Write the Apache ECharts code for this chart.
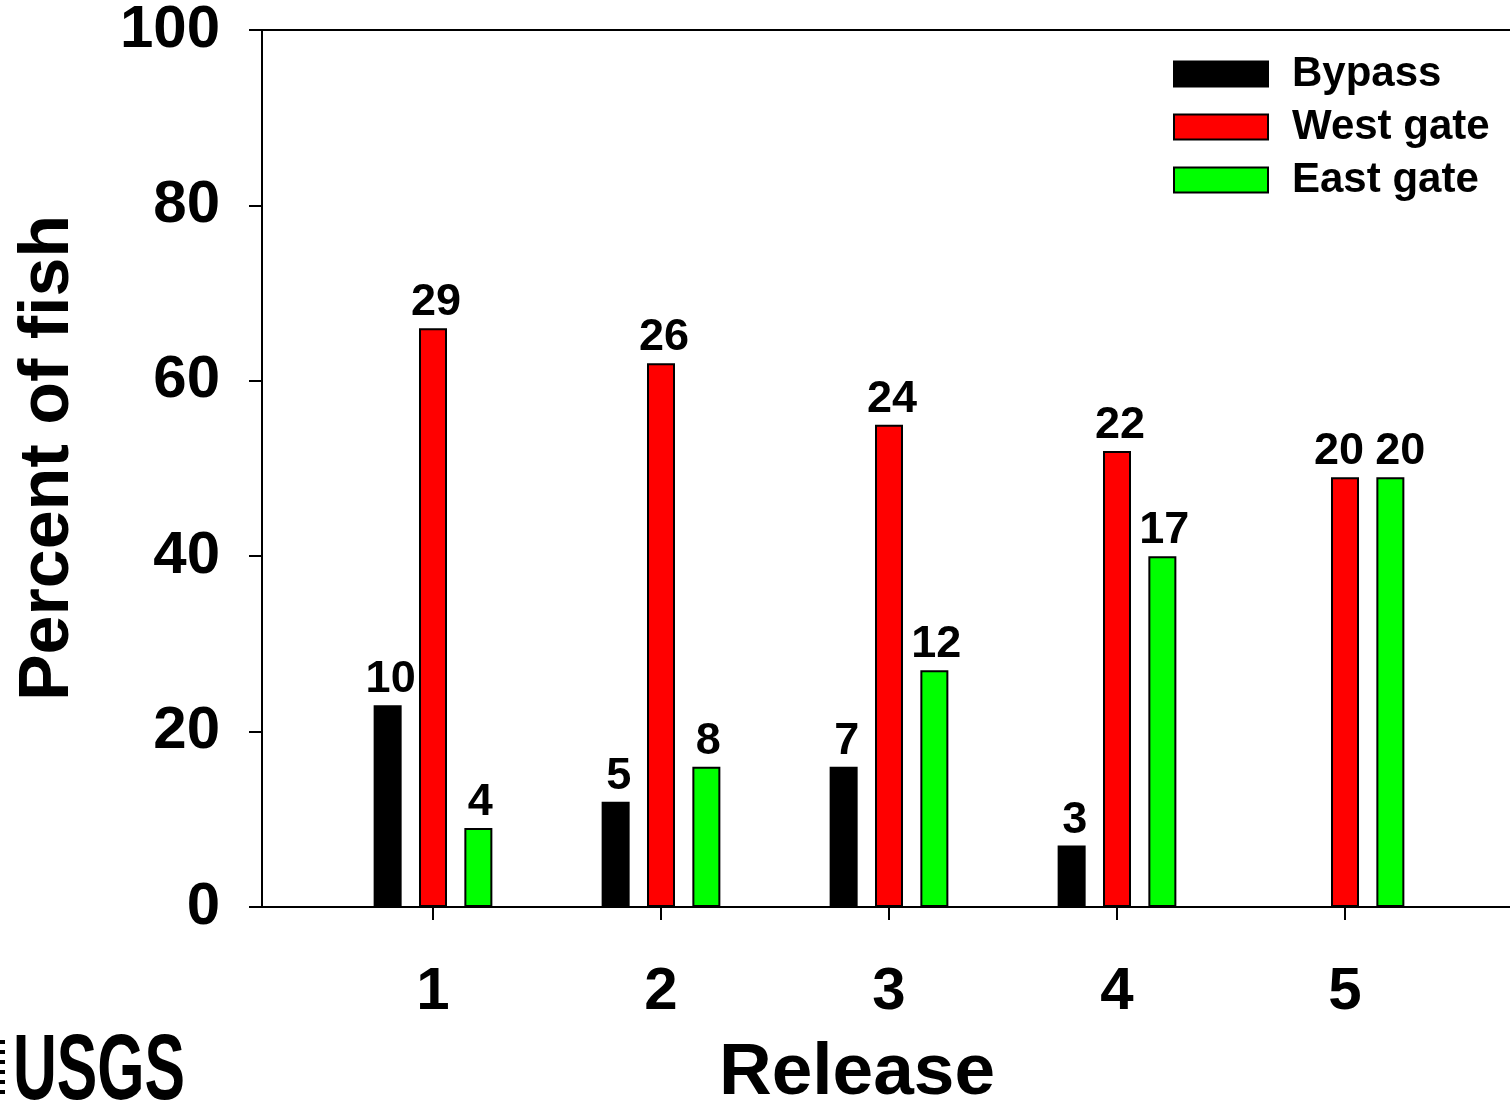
<!DOCTYPE html>
<html>
<head>
<meta charset="utf-8">
<script src="https://cdn.jsdelivr.net/npm/echarts@6/dist/echarts.min.js"></script>
<style>
html,body{margin:0;padding:0;background:#fff;}
#chart{width:1510px;height:1105px;}
</style>
</head>
<body>
<div id="chart"></div>
<script>
// ---- data ----
const categories = ['1', '2', '3', '4', '5'];
const seriesNames = ['Bypass', 'West gate', 'East gate'];
const bypassPct = [23, 12, 16, 7, null];
const westGatePct = [66, 62, 55, 52, 49];
const eastGatePct = [9, 16, 27, 40, 49];
const bypassCount = [10, 5, 7, 3, null];
const westGateCount = [29, 26, 24, 22, 20];
const eastGateCount = [4, 8, 12, 17, 20];
const yMin = 0, yMax = 100, yStep = 20;
const xTitle = 'Release';
const yTitle = 'Percent of fish';

const FONT = 'Liberation Sans, Arial, sans-serif';
const chart = echarts.init(document.getElementById('chart'));

// small horizontal nudges for labels that would otherwise collide (release 5)
const westLabelShift = [3, 3, 3, 3, -6];
const eastLabelShift = [2, 2, 2, 2, 10];
const bypassLabelShift = [3, 3, 3, 3, 0];

function barSeries(name, values, counts, color, shifts) {
  return {
    name: name,
    type: 'bar',
    xAxisIndex: 1,
    yAxisIndex: 1,
    barWidth: 28,
    barGap: '62%',
    data: values.map((v, i) => ({
      value: v,
      count: counts[i],
      label: { offset: [shifts[i], 0] }
    })),
    itemStyle: { color: color, borderColor: '#000', borderWidth: 2 },
    label: {
      show: true,
      position: 'top',
      distance: 3,
      color: '#000',
      fontFamily: FONT,
      fontWeight: 'bold',
      fontSize: 45,
      formatter: p => (p.data && p.data.count != null ? String(p.data.count) : '')
    }
  };
}

const option = {
  backgroundColor: '#fff',
  animation: false,
  grid: [
    { left: 262, top: 30, right: -30, bottom: 198, show: true, borderColor: '#000', borderWidth: 2, backgroundColor: 'transparent', outerBoundsMode: 'none', containLabel: false },
    { left: 319, top: 30, width: 1140, bottom: 198, outerBoundsMode: 'none', containLabel: false }
  ],
  legend: {
    orient: 'vertical',
    left: 1173,
    top: 53,
    padding: 0,
    itemWidth: 94,
    itemHeight: 25,
    itemGap: 11,
    icon: 'rect',
    data: seriesNames,
    textStyle: {
      color: '#000', fontFamily: FONT, fontWeight: 'bold', fontSize: 42,
      padding: [0, 0, 0, 19]
    }
  },
  xAxis: [
    {
      type: 'value', gridIndex: 0, min: 0, max: 1,
      axisLine: { show: true, lineStyle: { color: '#000', width: 2 } },
      axisTick: { show: false }, axisLabel: { show: false }, splitLine: { show: false }
    },
    {
      type: 'category', gridIndex: 1, data: categories,
      axisLine: { show: false },
      axisTick: { show: true, alignWithLabel: true, length: 13, lineStyle: { color: '#000', width: 2 } },
      axisLabel: { color: '#000', fontFamily: FONT, fontWeight: 'bold', fontSize: 60, margin: 55 }
    }
  ],
  yAxis: [
    {
      type: 'value', gridIndex: 0, min: yMin, max: yMax, interval: yStep,
      axisLine: { show: true, lineStyle: { color: '#000', width: 2 } },
      axisTick: { show: true, length: 13, lineStyle: { color: '#000', width: 2 } },
      axisLabel: { color: '#000', fontFamily: FONT, fontWeight: 'bold', fontSize: 60, margin: 42 },
      splitLine: { show: false }
    },
    {
      type: 'value', gridIndex: 1, min: yMin, max: yMax, interval: yStep, show: false
    }
  ],
  graphic: [
    {
      type: 'text', x: 857, y: 1074,
      style: { text: xTitle, fill: '#000', font: 'bold 73px "Liberation Sans", Arial', textAlign: 'center', textVerticalAlign: 'middle' }
    },
    {
      type: 'text', x: 49, y: 458, rotation: Math.PI / 2,
      style: { text: yTitle, fill: '#000', font: 'bold 70px "Liberation Sans", Arial', textAlign: 'center', textVerticalAlign: 'middle' }
    },
    {
      type: 'text', x: 13, y: 1028, scaleX: 0.66, originX: 0, originY: 0,
      style: { text: 'USGS', fill: '#000', font: 'bold 92px "Liberation Sans", Arial', textAlign: 'left', textVerticalAlign: 'top' }
    },
    { type: 'rect', shape: { x: 0, y: 1040, width: 5, height: 4 }, style: { fill: '#000' } },
    { type: 'rect', shape: { x: 0, y: 1050, width: 5, height: 4 }, style: { fill: '#000' } },
    { type: 'rect', shape: { x: 0, y: 1060, width: 5, height: 4 }, style: { fill: '#000' } },
    { type: 'rect', shape: { x: 0, y: 1070, width: 5, height: 4 }, style: { fill: '#000' } },
    { type: 'rect', shape: { x: 0, y: 1080, width: 5, height: 4 }, style: { fill: '#000' } },
    { type: 'rect', shape: { x: 0, y: 1090, width: 5, height: 4 }, style: { fill: '#000' } }
  ],
  series: [
    barSeries(seriesNames[0], bypassPct, bypassCount, '#000000', bypassLabelShift),
    barSeries(seriesNames[1], westGatePct, westGateCount, '#ff0000', westLabelShift),
    barSeries(seriesNames[2], eastGatePct, eastGateCount, '#00ff00', eastLabelShift)
  ]
};
chart.setOption(option);
</script>
</body>
</html>
